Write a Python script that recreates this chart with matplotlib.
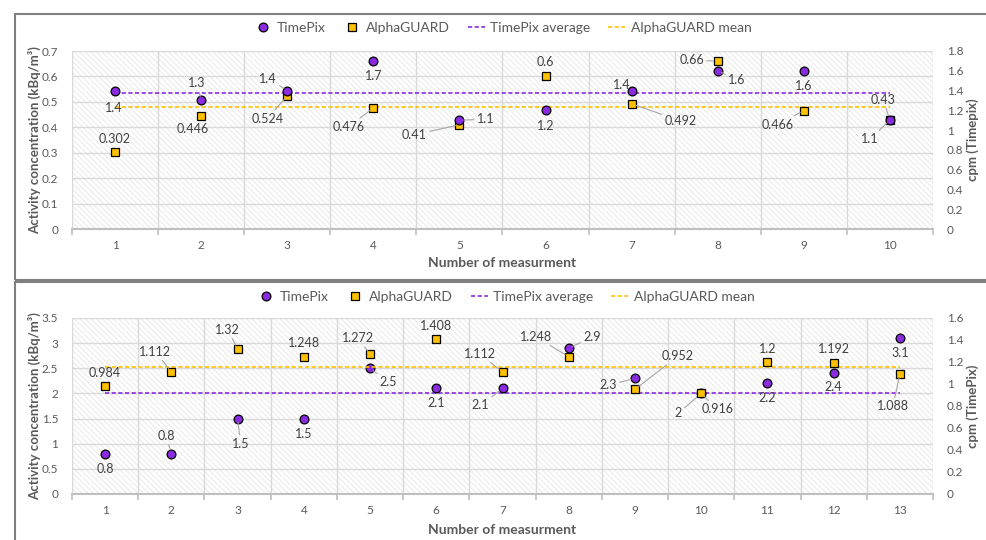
import numpy as np
import matplotlib.pyplot as plt
from matplotlib.patches import Rectangle
from matplotlib.lines import Line2D

plt.rcParams['font.family'] = ['Lato', 'DejaVu Sans']
plt.rcParams['hatch.linewidth'] = 0.8

# верхний график (10 измерений)
n_top = [1, 2, 3, 4, 5, 6, 7, 8, 9, 10]
ag_top = [0.302, 0.446, 0.524, 0.476, 0.41, 0.6, 0.492, 0.66, 0.466, 0.43]
tp_top = [1.4, 1.3, 1.4, 1.7, 1.1, 1.2, 1.4, 1.6, 1.6, 1.1]
tp_top_avg = 1.38
ag_top_mean = 0.4806

# нижний график (13 измерений)
n_bot = [1, 2, 3, 4, 5, 6, 7, 8, 9, 10, 11, 12, 13]
tp_bot = [0.8, 0.8, 1.5, 1.5, 2.5, 2.1, 2.1, 2.9, 2.3, 2, 2.2, 2.4, 3.1]
ag_bot = [0.984, 1.112, 1.32, 1.248, 1.272, 1.408, 1.112, 1.248, 0.952, 0.916, 1.2, 1.192, 1.088]
tp_bot_avg = 2.015
ag_bot_mean = 1.158

# смещения подписей (px, вниз +) и выноски
off_ag_top = [(0, -13, 0), (-8, 13, 0), (-20, 23, 1), (-25, 19, 1), (-45, 10, 1),
              (0, -14, 0), (49, 17, 1), (-26, -1, 1), (-26, 14, 1), (-7, -20, 1)]
off_tp_top = [(-1, 17, 0), (-4, -17, 1), (-19, -12, 1), (0, 15, 0), (26, -1, 1),
              (0, 16, 0), (-10, -6, 0), (19, 9, 1), (0, 15, 0), (-20, 19, 1)]
off_ag_bot = [(0, -13, 0), (-16, -20, 1), (-10, -19, 1), (0, -14, 0), (-12, -16, 1),
              (0, -13, 0), (-23, -18, 1), (-33, -20, 1), (43, -33, 1), (16, 16, 1),
              (0, -13, 0), (0, -14, 0), (-7, 32, 1)]
off_tp_bot = [(0, 15, 0), (-5, -18, 1), (3, 25, 1), (0, 15, 0), (18, 14, 1),
              (0, 15, 0), (-22, 17, 1), (23, -11, 1), (-27, 7, 1), (-23, 20, 1),
              (0, 15, 0), (0, 14, 0), (0, 15, 0)]

PURPLE = '#8A2BE2'
GOLD = '#FFC000'
TXT = '#595959'


def labels(ax, x, y, offs):
    for xi, yi, (dx, dy, lead) in zip(x, y, offs):
        kw = {}
        if lead:
            kw['arrowprops'] = dict(arrowstyle='-', color='#a6a6a6', lw=0.8,
                                    shrinkA=0, shrinkB=3)
        ax.annotate(f'{yi:g}', (xi, yi), xytext=(dx, -dy), textcoords='offset pixels',
                    ha='center', va='center', fontsize=9, color='#404040', zorder=6, **kw)


def panel(rect, n, left_vals, right_vals, left_is_tp, left_mean, right_mean,
          left_lim, left_step, right_lim, right_step, right_label, offs_left, offs_right):
    ax = fig.add_axes(rect)
    ax.set_xlim(0.5, len(n) + 0.5)
    ax.set_ylim(0, left_lim)
    ax.add_patch(Rectangle((0, 0), 1, 1, transform=ax.transAxes, facecolor='white',
                           edgecolor='#ebebeb', hatch='\\' * 6, linewidth=0, zorder=0.1))
    ax.set_axisbelow(True)
    lt = np.arange(0, left_lim + 1e-9, left_step)
    ax.set_yticks(lt)
    ax.set_yticklabels([f'{v:g}' for v in lt])
    ax.set_xticks(n)
    ax.set_xticks(np.arange(0.5, len(n) + 1, 1), minor=True)
    ax.grid(True, axis='y', color='#d9d9d9', lw=1)
    ax.grid(True, axis='x', which='minor', color='#d9d9d9', lw=1)
    ax.tick_params(axis='x', which='major', length=0, pad=8, labelsize=8.5, labelcolor=TXT)
    ax.tick_params(axis='x', which='minor', length=4, width=1.2, color='#bfbfbf')
    ax.tick_params(axis='y', length=0, pad=10, labelsize=8.5, labelcolor=TXT)
    for s in ['top', 'right', 'left']:
        ax.spines[s].set_visible(False)
    ax.spines['bottom'].set_color('#bfbfbf')
    ax.spines['bottom'].set_linewidth(1.5)

    ax2 = ax.twinx()
    ax2.set_ylim(0, right_lim)
    rt = np.arange(0, right_lim + 1e-9, right_step)
    ax2.set_yticks(rt)
    ax2.set_yticklabels([f'{v:g}' for v in rt])
    ax2.tick_params(axis='y', length=0, pad=10, labelsize=8.5, labelcolor=TXT)
    for s in ax2.spines.values():
        s.set_visible(False)

    if left_is_tp:
        ax_tp, ax_ag, tp_vals, ag_vals, tp_mean, ag_mean = ax, ax2, left_vals, right_vals, left_mean, right_mean
        off_tp, off_ag = offs_left, offs_right
    else:
        ax_tp, ax_ag, tp_vals, ag_vals, tp_mean, ag_mean = ax2, ax, right_vals, left_vals, right_mean, left_mean
        off_tp, off_ag = offs_right, offs_left

    ax_tp.plot([n[0], n[-1]], [tp_mean, tp_mean], color=PURPLE, lw=1.2, dashes=(2.5, 1.5), zorder=2)
    ax_ag.plot([n[0], n[-1]], [ag_mean, ag_mean], color=GOLD, lw=1.2, dashes=(2.5, 1.5), zorder=2)
    ax_ag.plot(n, ag_vals, 's', ms=6.3, mfc=GOLD, mec='black', mew=0.9, ls='none', zorder=4)
    ax_tp.plot(n, tp_vals, 'o', ms=6.3, mfc=PURPLE, mec='black', mew=0.9, ls='none', zorder=4)
    labels(ax_tp, n, tp_vals, off_tp)
    labels(ax_ag, n, ag_vals, off_ag)

    ax.set_xlabel('Number of measurment', fontsize=10, fontweight='bold', color=TXT)
    ax.set_ylabel('Activity concentration (kBq/m³)', fontsize=9.5, fontweight='bold', color=TXT)
    ax2.set_ylabel(right_label, fontsize=9.5, fontweight='bold', color=TXT)
    return ax, ax2


fig = plt.figure(figsize=(9.86, 5.4), dpi=100)

# рамки вокруг графиков
fig.patches.append(Rectangle((15 / 986, 1 - 280 / 540), 1.0, 266 / 540, transform=fig.transFigure,
                             facecolor='none', edgecolor='#808080', lw=1.5))
fig.patches.append(Rectangle((15 / 986, -0.1), 1.0, 1 - 282 / 540 + 0.1, transform=fig.transFigure,
                             facecolor='none', edgecolor='#808080', lw=1.5))

a1, b1 = panel([72 / 986, 1 - 229 / 540, 861 / 986, 178 / 540], n_top, ag_top, tp_top, False,
               ag_top_mean, tp_top_avg, 0.7, 0.1, 1.8, 0.2, 'cpm (Timepix)', off_ag_top, off_tp_top)
a2, b2 = panel([72 / 986, 1 - 494 / 540, 861 / 986, 176 / 540], n_bot, tp_bot, ag_bot, True,
               tp_bot_avg, ag_bot_mean, 3.5, 0.5, 1.6, 0.2, 'cpm (TimePix)', off_tp_bot, off_ag_bot)

for a, b, yl in [(a1, b1, -0.19), (a2, b2, -0.205)]:
    a.xaxis.set_label_coords(0.5, yl)
    a.xaxis.label.set_va('center')
    a.yaxis.set_label_coords(-0.043, 0.5)
    a.yaxis.label.set_va('center')
    b.yaxis.set_label_coords(1.0465, 0.5)
    b.yaxis.label.set_va('center')

handles = [Line2D([], [], marker='o', ls='none', ms=6.3, mfc=PURPLE, mec='black', mew=0.9),
           Line2D([], [], marker='s', ls='none', ms=6.3, mfc=GOLD, mec='black', mew=0.9),
           Line2D([], [], color=PURPLE, lw=1.2, dashes=(2.5, 1.5)),
           Line2D([], [], color=GOLD, lw=1.2, dashes=(2.5, 1.5))]
names = ['TimePix', 'AlphaGUARD', 'TimePix average', 'AlphaGUARD mean']
for yy, xx in [(1 - 28 / 540, 503 / 986), (1 - 297 / 540, 506 / 986)]:
    leg = fig.legend(handles, names, loc='center', bbox_to_anchor=(xx, yy), ncol=4, frameon=False,
                     fontsize=10, handlelength=1.2, handletextpad=0.4, columnspacing=1.3)
    for t in leg.get_texts():
        t.set_color(TXT)

fig.savefig('out.png', dpi=100)
